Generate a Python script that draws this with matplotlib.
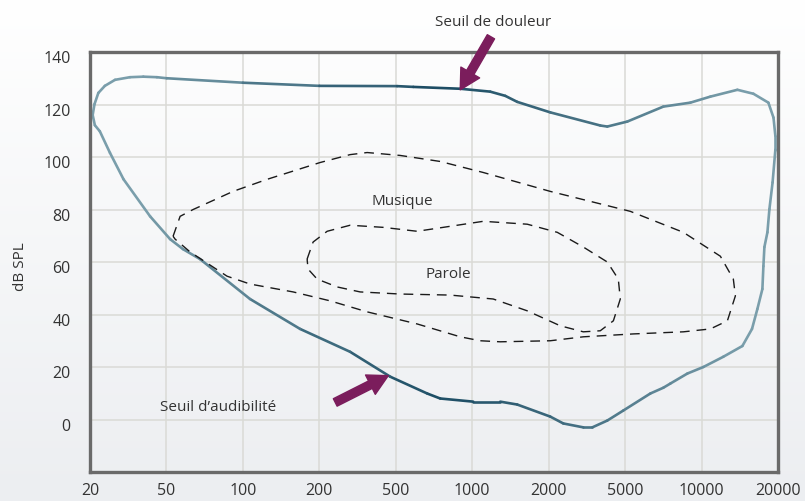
import numpy as np
import matplotlib.pyplot as plt
import matplotlib.transforms as mtransforms
from matplotlib.collections import LineCollection
from matplotlib.colors import LinearSegmentedColormap, to_rgb

plt.rcParams['font.family'] = ['Open Sans', 'DejaVu Sans']

# frequency axis: ticks are equally spaced on the chart
freq_ticks = [20, 50, 100, 200, 500, 1000, 2000, 5000, 10000, 20000]
freq_labels = [str(f) for f in freq_ticks]
db_ticks = [0, 20, 40, 60, 80, 100, 120, 140]

# outer area (pain threshold on top, hearing threshold at the bottom)
outer_hz = [20.65, 21.1, 22.1, 23.9, 27.0, 32.3, 37.9, 44.6, 50.1, 100, 200,
            506, 586, 897, 1177, 1349, 1504, 2039, 3712, 4039, 5101, 7071,
            9032, 10830, 13840, 16000, 18330, 19200, 19530, 19530, 19040,
            18500, 18170, 17680, 17520, 17360, 16590, 15800, 14480, 12180,
            10167, 8791, 7537, 7071, 6285, 4890, 4039, 3374, 3030, 2382, 2039,
            1504, 1289, 1009, 748, 665, 468, 289, 168, 106.7, 67.8, 58.1,
            51.7, 41.1, 29.9, 25.4, 22.5, 21.2, 20.65]
outer_db = [116, 120.1, 124.4, 127.1, 129.4, 130.4, 130.6, 130.4, 130.0,
            128.3, 127.1, 127, 126.7, 126, 124.9, 123.3, 121, 117, 112, 111.6,
            113.5, 119.2, 120.7, 123, 125.6, 124.1, 120.7, 115, 108, 102.8,
            90.3, 80.1, 71.3, 65.7, 58.4, 49.7, 42.1, 34.5, 28, 23.9, 20,
            17.5, 13.7, 12.1, 9.9, 3.4, -0.4, -3, -3, -1.5, 1.1, 5.7, 6.8,
            6.8, 8, 9.9, 16.3, 25.8, 34.5, 45.9, 61.1, 64.9, 68.7, 77.4, 91.5,
            101.6, 109.8, 112.1, 116]

# music area
musique_hz = [53.1, 56.6, 63.7, 91.5, 124.6, 202, 289, 355, 520, 748, 1105,
              2039, 5240, 8480, 11860, 13340, 13590, 12640, 10830, 8480, 5387,
              3030, 2039, 1289, 1075, 897, 607, 355, 227.6, 157.7, 106.7, 86.6,
              62.0, 54.1]
musique_db = [69.8, 77.4, 80.0, 86.9, 91.5, 97.9, 100.9, 101.7, 100.6, 98.3,
              94.1, 86.9, 79.3, 71.3, 62.2, 53.5, 47.1, 37.6, 34.5, 33.4, 32.6,
              31.5, 30.0, 29.6, 30.0, 31.5, 36.4, 41.0, 45.2, 48.6, 51.6, 54.6,
              63.8, 68.7]

# speech area
parole_hz = [179, 189, 219.6, 289, 430, 607, 819, 1105, 1647, 2218, 3030,
             4039, 4608, 4720, 4344, 3712, 3030, 2298, 1647, 1210, 819, 520,
             326, 247.6, 196, 180.6]
parole_db = [61.1, 67.6, 71.7, 74.0, 73.2, 71.7, 73.6, 75.5, 74.4, 71.3, 65.7,
             60.0, 53.5, 45.9, 37.6, 33.8, 33.4, 35.7, 41.4, 45.9, 47.4, 47.8,
             48.6, 50.5, 53.5, 57.3]


def to_pos(f):
    return np.interp(np.log10(f), np.log10(freq_ticks), np.arange(len(freq_ticks)))


def to_hz(p):
    return 10 ** np.interp(p, np.arange(len(freq_ticks)), np.log10(freq_ticks))


fig = plt.figure(figsize=(8.05, 5.02), dpi=100)

# soft vertical gradient behind everything
bg = fig.add_axes([0, 0, 1, 1], zorder=-10)
grad = np.linspace(0, 1, 256).reshape(-1, 1)
bg.imshow(grad, aspect='auto', extent=[0, 1, 0, 1],
          cmap=LinearSegmentedColormap.from_list('bg', ['#eceef1', '#ffffff']),
          origin='lower')
bg.axis('off')

ax = fig.add_axes([90 / 805, 1 - 473 / 502, 688 / 805, 420 / 502])
ax.patch.set_alpha(0)
ax.set_xscale('function', functions=(to_pos, to_hz))
ax.set_xlim(20, 20000)
ax.set_ylim(-20, 140)
ax.set_xticks(freq_ticks)
ax.set_xticklabels(freq_labels)
ax.minorticks_off()
ax.set_yticks(db_ticks)
ax.tick_params(length=0, labelsize=11.5, labelcolor='#333333')
ax.tick_params(axis='x', pad=7)
ax.tick_params(axis='y', pad=14)
off = mtransforms.ScaledTranslation(0, -3 / 72, fig.dpi_scale_trans)
for lab in ax.get_yticklabels():
    lab.set_transform(lab.get_transform() + off)
ax.grid(True, color='#dadad6', lw=1.1)
ax.set_axisbelow(True)
for s in ax.spines.values():
    s.set_color('#6a6a6a')
    s.set_linewidth(2.4)

# outer curve, darker in the middle of the frequency range
dark = np.array(to_rgb('#1b4c63'))
light = np.array(to_rgb('#7a9eab'))
pts = np.column_stack([outer_hz, outer_db])
segs = np.stack([pts[:-1], pts[1:]], axis=1)
mid = to_pos(np.sqrt(np.array(outer_hz[:-1]) * np.array(outer_hz[1:])))
t = np.clip(np.abs(mid - 4.6) / 4.0, 0, 1)[:, None]
cols = dark * (1 - t) + light * t
lc = LineCollection(segs, colors=cols, linewidths=1.9, capstyle='round',
                    joinstyle='round', transform=ax.transData)
ax.add_collection(lc)

ax.plot(musique_hz + musique_hz[:1], musique_db + musique_db[:1],
        color='#1a1a1a', lw=1.0, dashes=(7, 5))
ax.plot(parole_hz + parole_hz[:1], parole_db + parole_db[:1],
        color='#1a1a1a', lw=1.0, dashes=(7, 5))

ax.text(530, 83.5, 'Musique', ha='center', va='center', fontsize=11, color='#333333')
ax.text(804, 55.8, 'Parole', ha='center', va='center', fontsize=11, color='#333333')
ax.text(79.8, 4.9, 'Seuil d\u2019audibilité', ha='center', va='center', fontsize=11,
        color='#333333')
ax.text(1210, 151.8, 'Seuil de douleur', ha='center', va='center', fontsize=11,
        color='#333333', clip_on=False)

arrow = dict(arrowstyle='simple,head_width=1.3,head_length=1.2,tail_width=0.5',
             mutation_scale=12, color='#7b1d5c', shrinkA=0, shrinkB=0)
ax.annotate('', xy=(897, 125.6), xytext=(1185, 145.8), arrowprops=arrow,
            annotation_clip=False)
ax.annotate('', xy=(457, 16.7), xytext=(242, 6.5), arrowprops=arrow,
            annotation_clip=False)

fig.text(20 / 805, 1 - 267 / 502, 'dB SPL', rotation=90, ha='center', va='center',
         fontsize=11, color='#333333')

fig.savefig('out.png', dpi=100)
